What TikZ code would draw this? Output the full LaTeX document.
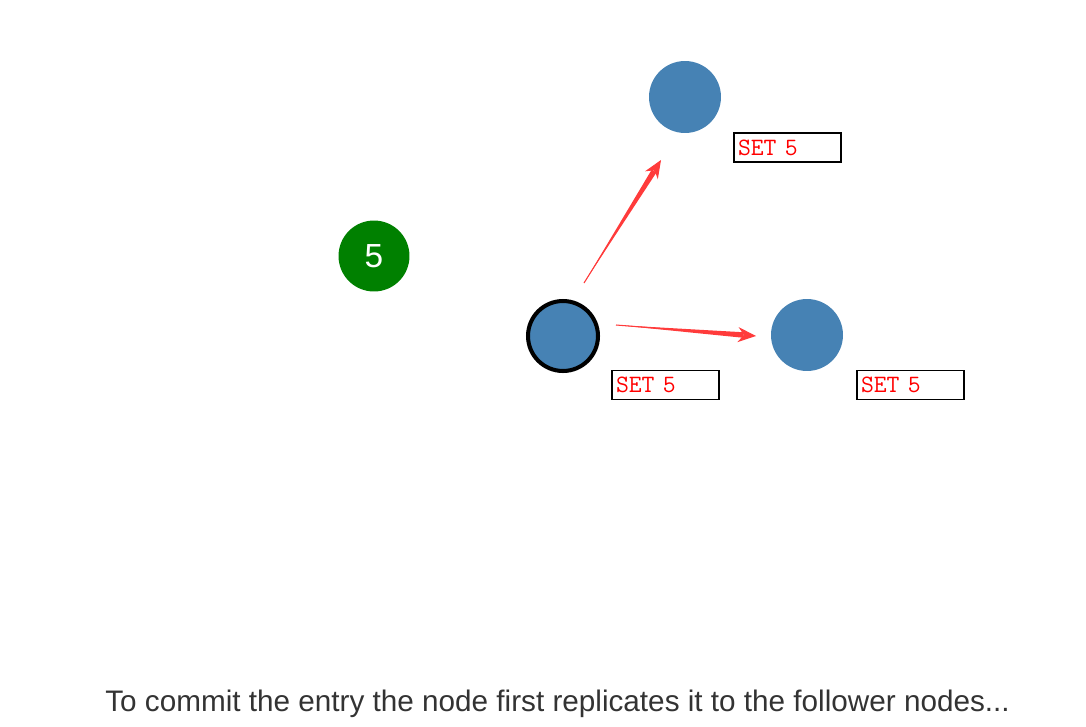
\documentclass[tikz,border=0pt]{standalone}
\usepackage{fontspec}
\setmainfont{Liberation Sans}
\usetikzlibrary{arrows.meta,calc}
\definecolor{srvblue}{HTML}{4682B4}
\definecolor{valgreen}{HTML}{008000}
\definecolor{msgred}{HTML}{FF3B3B}
\definecolor{capgray}{HTML}{333333}
\begin{document}
\begin{tikzpicture}[x=0.02cm,y=-0.02cm,
    srv/.style={circle,fill=srvblue,minimum size=1.44cm,inner sep=0pt},
    ldr/.style={srv,draw=black,line width=2.3pt,minimum size=1.4cm},
    val/.style={circle,fill=valgreen,minimum size=1.42cm,inner sep=0pt,
      text=white,font=\fontsize{19}{21}\selectfont},
    logbox/.style={draw=black,line width=0.6pt,minimum height=0.58cm,
      text width=1.98cm,inner xsep=0.08cm,inner ysep=0pt,align=left,
      text=red,font=\ttfamily\fontsize{14.2}{16}\selectfont},
    msg/.style={draw=msgred,line width=0.6pt,
      -{Stealth[length=0.36cm,width=0.3cm]}}]
  \useasboundingbox (0,0) rectangle (1086,727);
  % the value
  \node[val] (v) at (374,256) {5};
  % the servers
  \node[srv] (f1) at (685,97) {};
  \node[ldr] (l) at (563,336) {};
  \node[srv] (f2) at (807,335) {};
  % the logs
  \node[logbox] (b1) at (787.5,147.5) {SET 5};
  \node[logbox] (bl) at (665.5,385) {SET 5};
  \node[logbox] (b2) at (910.5,385) {SET 5};
  % the messages
  \coordinate (m1s) at (584,283);
  \coordinate (m1e) at (661,160);
  \coordinate (m2s) at (616,325);
  \coordinate (m2e) at (756,336);
  \foreach \s/\e in {m1s/m1e,m2s/m2e}{
    \coordinate (hb) at ($(\e)!0.26cm!(\s)$);
    \fill[msgred] (\s) -- ($(hb)!0.055cm!90:(\e)$) -- ($(hb)!0.055cm!-90:(\e)$) -- cycle;
    \draw[msg] (\s) -- (\e);
  }
  \node[anchor=base west,inner sep=0pt,text=capgray,font=\fontsize{16.9}{20}\selectfont]
    (cap) at (105,711) {To commit the entry the node first replicates it to the follower nodes...};
\end{tikzpicture}
\end{document}
